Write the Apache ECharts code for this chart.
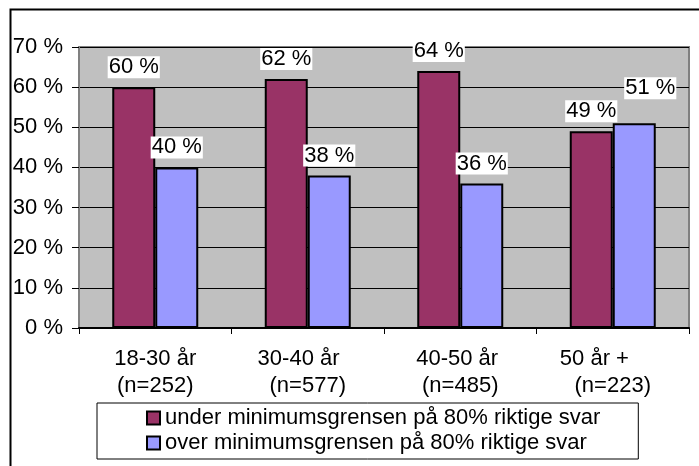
<!DOCTYPE html>
<html>
<head>
<meta charset="utf-8">
<script src="https://cdn.jsdelivr.net/npm/echarts@6/dist/echarts.min.js"></script>
<style>
  html, body { margin: 0; padding: 0; background: #fff; }
  #chart { width: 699px; height: 466px; }
</style>
</head>
<body>
<div id="chart"></div>
<script>
var categories = ['18-30 år\n(n=252)', '30-40 år   \n(n=577)', '40-50 år \n(n=485)', '50 år +      \n(n=223)'];
var underValues = [60, 62, 64, 49];
var overValues = [40, 38, 36, 51];
var seriesNames = ['under minimumsgrensen på 80% riktige svar', 'over minimumsgrensen på 80% riktige svar'];

var fontFamily = 'Arial, "Liberation Sans", sans-serif';
var fontSize = 22;

var chart = echarts.init(document.getElementById('chart'));

var labelStyle = {
    show: true,
    position: 'top',
    distance: 9,
    formatter: '{c} %',
    color: '#000',
    fontFamily: fontFamily,
    fontSize: fontSize,
    backgroundColor: '#fff',
    padding: [0, 1, 0, 1]
};

// the 51 % label sits higher and to the right so it doesn't hit the 49 % one
var overData = overValues.map(function (v, i) {
    if (i == 3) {
        return { value: v, label: { offset: [16, -15] } };
    }
    return v;
});

var option = {
    animation: false,
    backgroundColor: '#fff',
    textStyle: { fontFamily: fontFamily },
    grid: {
        left: 79,
        right: 10,
        top: 47,
        bottom: 138,
        show: true,
        backgroundColor: '#C0C0C0',
        borderColor: '#808080',
        borderWidth: 2
    },
    legend: {
        orient: 'vertical',
        left: 97,
        top: 403,
        itemWidth: 13,
        itemHeight: 13,
        itemGap: 3,
        padding: [4, 38, 5, 49],
        borderColor: '#000',
        borderWidth: 1,
        icon: 'rect',
        itemStyle: { borderColor: '#000', borderWidth: 2 },
        textStyle: { color: '#000', fontSize: fontSize, fontFamily: fontFamily },
        data: seriesNames
    },
    xAxis: {
        type: 'category',
        data: categories,
        axisLine: { lineStyle: { color: '#000', width: 2 } },
        axisTick: { show: true, length: 6, lineStyle: { color: '#000' } },
        axisLabel: {
            color: '#000',
            fontSize: fontSize,
            fontFamily: fontFamily,
            lineHeight: 27,
            margin: 17,
            interval: 0
        }
    },
    yAxis: {
        type: 'value',
        min: 0,
        max: 70,
        interval: 10,
        axisLine: { show: true, lineStyle: { color: '#808080', width: 2 } },
        axisTick: { show: true, length: 7, lineStyle: { color: '#000' } },
        axisLabel: {
            formatter: '{value} %',
            color: '#000',
            fontSize: fontSize,
            fontFamily: fontFamily,
            margin: 16
        },
        splitLine: { lineStyle: { color: '#000', width: 1 } }
    },
    series: [{
        name: seriesNames[0],
        type: 'bar',
        barWidth: 43,
        barGap: '0%',
        itemStyle: { color: '#993366', borderColor: '#000', borderWidth: 2 },
        label: labelStyle,
        data: underValues
    }, {
        name: seriesNames[1],
        type: 'bar',
        barWidth: 43,
        itemStyle: { color: '#9999FF', borderColor: '#000', borderWidth: 2 },
        label: labelStyle,
        data: overData
    }],
    graphic: [{
        // outer chart frame, only top and left edges visible
        type: 'polyline',
        shape: { points: [[10.5, 470], [10.5, 9.5], [705, 9.5]] },
        style: { stroke: '#000', lineWidth: 2, fill: null },
        silent: true
    }]
};
chart.setOption(option);
</script>
</body>
</html>
